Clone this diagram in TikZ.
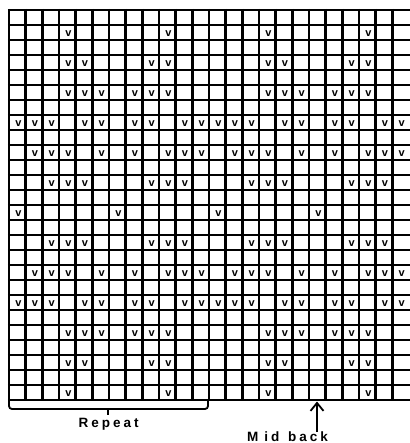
\documentclass[tikz,border=0pt]{standalone}
\usepackage{fontspec}
\setmainfont{Liberation Sans}
\usetikzlibrary{arrows.meta}
\begin{document}
\begin{tikzpicture}[x=1pt,y=-1pt,
  gridline/.style={line width=2.4pt,black},
  vmark/.style={font=\fontsize{11}{11}\selectfont\bfseries,inner sep=0pt},
  lbl/.style={font=\fontsize{13.5}{15}\selectfont\bfseries,inner sep=0pt},
  brc/.style={line width=1.8pt,black,rounded corners=3pt},
  arr/.style={line width=1.8pt,black,-{Straight Barb[length=8pt,width=13pt]}}]
\useasboundingbox (0,0) rectangle (409,443);
\fill[white] (0,0) rectangle (409,443);
\def\cw{16.6667}
% grid
\foreach \k in {0,...,23}
  \draw[gridline] ({9+\k*\cw},8.8) -- ({9+\k*\cw},401.2);
\foreach \j in {0,...,26}
  \draw[gridline] (7.8,{10+\j*15}) -- (410,{10+\j*15});
% slip-stitch marks
\foreach \rows/\cols in {{1,25}/{3,9},{3,23}/{3,4,8,9},{5,21}/{3,4,5,7,8,9},
    {7,19}/{0,1,2,4,5,7,8,10,11},{9,17}/{1,2,3,5,7,9,10,11},
    {11,15}/{2,3,4,8,9,10},{13}/{0,6}}{
  \foreach \r in \rows {
    \foreach \c in \cols {
      \foreach \o in {0,12} {
        \pgfmathtruncatemacro\cc{\c+\o}
        \node[vmark] (v\r-\cc) at ({9+(\cc+0.5)*\cw+1},{10+(\r+0.5)*15+1}) {v};
      }
    }
  }
}
% repeat bracket
\coordinate (repA) at (9,400);
\coordinate (repB) at (208,400);
\coordinate (repM) at (108.3,409);
\coordinate (repT) at (108.3,415);
\draw[brc] (repA) -- (9,409) -- (208,409) -- (repB);
\draw[line width=1.8pt] (repM) -- (repT);
\node[lbl,anchor=base] (rep) at (108.7,427.7)
  {R\kern3pt e\kern3pt p\kern3pt e\kern3pt a\kern3pt t};
% mid back arrow
\coordinate (mbtail) at (317,432);
\coordinate (mbtip) at (317,401.5);
\draw[arr] (mbtail) -- (mbtip);
\node[lbl,anchor=base] (mid) at (287.5,441.5)
  {M\kern6pt i\kern3pt d\kern3pt\ \kern2pt b\kern3pt a\kern3pt c\kern3pt k};
\end{tikzpicture}
\end{document}
